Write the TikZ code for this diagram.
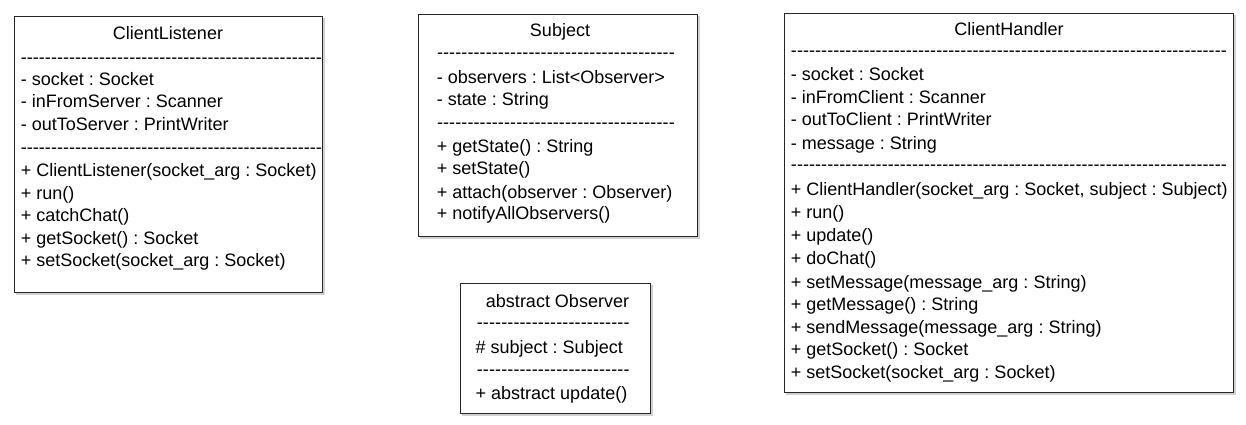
\documentclass[tikz,border=0pt]{standalone}
\usepackage{fontspec}
\setmainfont{Liberation Sans}
\frenchspacing
\newcommand{\dashrow}[1]{\makebox[#1pt][l]{\xleaders\hbox{-}\hfill}}
\tikzset{
  umlbox/.style={draw=black!85, line width=1pt, fill=white, inner sep=0pt, outer sep=0pt, anchor=north west},
  boxshadow/.style={draw=black!18, line width=1.2pt},
  txt/.style={inner sep=0pt, anchor=base west, font=\fontsize{18}{22}\selectfont\frenchspacing},
  ttl/.style={inner sep=0pt, anchor=base, font=\fontsize{18}{22}\selectfont\frenchspacing},
}
\begin{document}
\begin{tikzpicture}[x=1pt, y=-1pt]
\useasboundingbox[fill=white] (0,0) rectangle (1246,424);

% ---------- ClientListener ----------
\draw[boxshadow] (16,294) -- (324,294) -- (324,18);
\node[umlbox, minimum width=308pt, minimum height=276.5pt] (cl) at (14,16) {};
\node[ttl] (clt) at (168,39.5) {ClientListener};
\node[txt] (cld1) at (20.7,63.5) {\dashrow{301}};
\node[txt] (cla1) at (20.7,85) {- socket : Socket};
\node[txt] (cla2) at (20.7,107.6) {- inFromServer : Scanner};
\node[txt] (cla3) at (20.7,130.3) {- outToServer : PrintWriter};
\node[txt] (cld2) at (20.7,153) {\dashrow{301}};
\node[txt] (clm1) at (20.7,176.5) {+ ClientListener(socket\_arg : Socket)};
\node[txt] (clm2) at (20.7,199) {+ run()};
\node[txt] (clm3) at (20.7,221.5) {+ catchChat()};
\node[txt] (clm4) at (20.7,244) {+ getSocket() : Socket};
\node[txt] (clm5) at (20.7,266.5) {+ setSocket(socket\_arg : Socket)};

% ---------- Subject ----------
\draw[boxshadow] (420,238) -- (699,238) -- (699,16);
\node[umlbox, minimum width=279pt, minimum height=222pt] (sb) at (418,14) {};
\node[ttl] (sbt) at (560,36.5) {Subject};
\node[txt] (sbd1) at (436.7,58.3) {\dashrow{238}};
\node[txt] (sba1) at (436.7,83) {- observers : List<Observer>};
\node[txt] (sba2) at (436.7,105.8) {- state : String};
\node[txt] (sbd2) at (436.7,128.3) {\dashrow{238}};
\node[txt] (sbm1) at (436.7,152.2) {+ getState() : String};
\node[txt] (sbm2) at (436.7,174.8) {+ setState()};
\node[txt] (sbm3) at (436.7,198.2) {+ attach(observer : Observer)};
\node[txt] (sbm4) at (436.7,219.8) {+ notifyAllObservers()};

% ---------- abstract Observer ----------
\draw[boxshadow] (462,415) -- (652,415) -- (652,285);
\node[umlbox, minimum width=190pt, minimum height=130pt] (ob) at (460,283) {};
\node[ttl] (obt) at (557.5,307.5) {abstract Observer};
\node[txt] (obd1) at (476.5,328.3) {\dashrow{153}};
\node[txt] (oba1) at (475.5,353.2) {\# subject : Subject};
\node[txt] (obd2) at (476.5,375) {\dashrow{153}};
\node[txt] (obm1) at (475.5,399.8) {+ abstract update()};

% ---------- ClientHandler ----------
\draw[boxshadow] (786,394) -- (1235,394) -- (1235,15);
\node[umlbox, minimum width=449pt, minimum height=379pt] (ch) at (784,13) {};
\node[ttl] (cht) at (1009,35) {ClientHandler};
\node[txt] (chd1) at (790.7,56.7) {\dashrow{436}};
\node[txt] (cha1) at (790.7,80.5) {- socket : Socket};
\node[txt] (cha2) at (790.7,103.2) {- inFromClient : Scanner};
\node[txt] (cha3) at (790.7,125.8) {- outToClient : PrintWriter};
\node[txt] (cha4) at (790.7,149.2) {- message : String};
\node[txt] (chd2) at (790.7,170) {\dashrow{436}};
\node[txt] (chm1) at (790.7,195.8) {+ ClientHandler(socket\_arg : Socket, subject : Subject)};
\node[txt] (chm2) at (790.7,218.2) {+ run()};
\node[txt] (chm3) at (790.7,241.5) {+ update()};
\node[txt] (chm4) at (790.7,264.8) {+ doChat()};
\node[txt] (chm5) at (790.7,288.2) {+ setMessage(message\_arg : String)};
\node[txt] (chm6) at (790.7,310.5) {+ getMessage() : String};
\node[txt] (chm7) at (790.7,333.2) {+ sendMessage(message\_arg : String)};
\node[txt] (chm8) at (790.7,355.8) {+ getSocket() : Socket};
\node[txt] (chm9) at (790.7,378.2) {+ setSocket(socket\_arg : Socket)};
\end{tikzpicture}
\end{document}
